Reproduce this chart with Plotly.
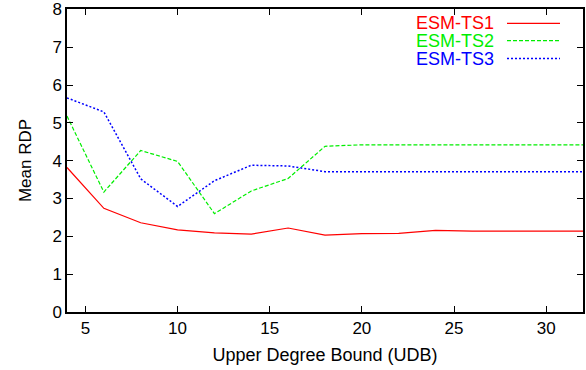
import plotly.graph_objects as go

udb = [4, 6, 8, 10, 12, 14, 16, 18, 20, 22, 24, 26, 28, 30, 32]
ts1 = [3.82, 2.74, 2.36, 2.17, 2.09, 2.06, 2.22, 2.03, 2.07, 2.08, 2.16, 2.14, 2.14, 2.14, 2.14]
ts2 = [5.18, 3.17, 4.27, 3.98, 2.6, 3.2, 3.53, 4.38, 4.42, 4.42, 4.42, 4.42, 4.42, 4.42, 4.42]
ts3 = [5.66, 5.29, 3.52, 2.79, 3.47, 3.88, 3.86, 3.71, 3.71, 3.71, 3.71, 3.71, 3.71, 3.71, 3.71]
y_ticks = [0, 1, 2, 3, 4, 5, 6, 7, 8]
x_ticks = [5, 10, 15, 20, 25, 30]

names = ["ESM-TS1", "ESM-TS2", "ESM-TS3"]
colors = ["#ff0000", "#00ee00", "#0000ff"]
dashes = ["solid", "4px,2px", "2px,2px"]
widths = [1.2, 1.2, 1.5]
series = [ts1, ts2, ts3]

FONT = "Liberation Sans, Arial, sans-serif"

fig = go.Figure()
for name, ys, c, d, w in zip(names, series, colors, dashes, widths):
    fig.add_trace(go.Scatter(x=udb, y=ys, mode="lines", name=name,
                             line=dict(color=c, width=w, dash=d),
                             showlegend=False))

# custom gnuplot-style legend: text then line sample
W, H = 586, 370
L, R, T, B = 67, 3, 9, 58
pw, ph = W - L - R, H - T - B
rows_y = [23.3, 40.7, 58.5]
for name, c, d, w, yy in zip(names, colors, dashes, widths, rows_y):
    yp = 1 - (yy - T) / ph
    x_text = (495 - L) / pw
    fig.add_annotation(x=x_text, y=yp, xref="paper", yref="paper",
                       text=name, showarrow=False, xanchor="right", yanchor="middle",
                       font=dict(family=FONT, size=18, color=c), borderpad=0)
    fig.add_shape(type="line", xref="paper", yref="paper",
                  x0=(507 - L) / pw, x1=(560 - L) / pw, y0=yp, y1=yp,
                  line=dict(color=c, width=w, dash=d))

axis_common = dict(showgrid=False, zeroline=False, showline=True, linecolor="black",
                   linewidth=1.5, mirror="allticks", ticks="inside", ticklen=6,
                   tickcolor="black", tickwidth=1, automargin=False,
                   tickfont=dict(family=FONT, size=17, color="black"))

fig.update_xaxes(range=[4, 32], tickvals=x_ticks,
                 title=dict(text="Upper Degree Bound (UDB)",
                            font=dict(family=FONT, size=18, color="black"), standoff=11),
                 **axis_common)
fig.update_yaxes(range=[0, 8.01], tickvals=y_ticks,
                 title=dict(text="Mean RDP",
                            font=dict(family=FONT, size=17, color="black"), standoff=16),
                 **axis_common)

fig.update_layout(width=W, height=H, margin=dict(l=L, r=R, t=T, b=B),
                  paper_bgcolor="white", plot_bgcolor="white")

fig.write_html("out.html")
